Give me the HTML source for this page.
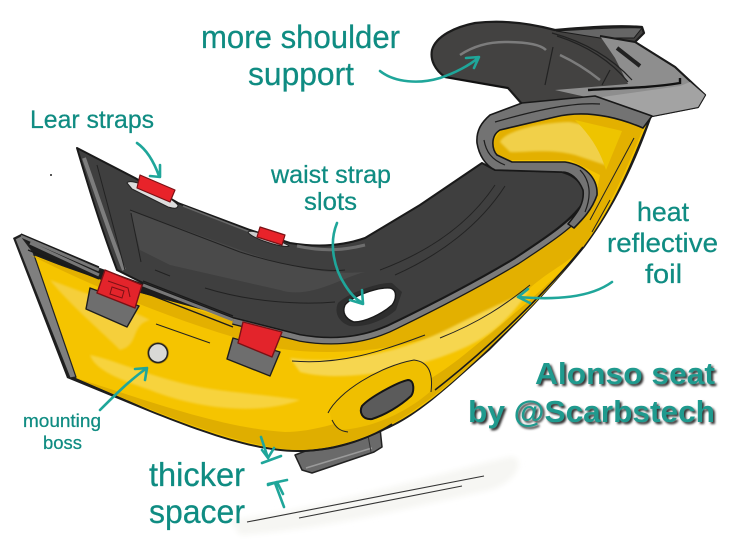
<!DOCTYPE html>
<html><head><meta charset="utf-8"><style>
html,body{margin:0;padding:0;background:#fff}
svg{display:block}
text{font-family:"Liberation Sans",sans-serif;fill:#0f8c82;stroke:#0f8c82;stroke-width:.25}
</style></head><body>
<svg width="730" height="539" viewBox="0 0 730 539" xmlns="http://www.w3.org/2000/svg">
<defs><filter id="b"><feGaussianBlur stdDeviation="3"/></filter><filter id="s"><feGaussianBlur stdDeviation="1"/></filter></defs>
<rect width="730" height="539" fill="#fff"/>
<path d="M230,520 C320,510 450,470 510,457 C525,455 522,480 490,490 C400,510 320,530 240,535Z" fill="#f6f6f3" filter="url(#b)"/>
<circle cx="51" cy="175" r="1" fill="#222"/>

<!-- spacer block -->
<path d="M295,455 L340,438 L367,428 L380,428 L382,447 L374,452 L312,473 L302,470Z" fill="#6a6a6a" stroke="#222" stroke-width="1.5" stroke-linejoin="round"/>
<path d="M306,468 L372,448" stroke="#9a9a9a" stroke-width="1.5" fill="none"/>
<path d="M367,430 L371,452" stroke="#333" fill="none"/>

<!-- shoulder -->
<path d="M432,50 C436,36 455,27 475,23 C500,20 525,22 555,30 C590,27 620,25 642,27 L644,33 L635,42 L675,67 L705,95 L698,107 L652,116 L595,100 L522,104 L508,88 L445,77 C435,70 430,60 432,50Z" fill="#434241" stroke="#1b1b1b" stroke-width="2.2" stroke-linejoin="round"/>
<path d="M556,31 C590,29 620,27 642,28 L634,38 L600,38 Z" fill="#666" stroke="#1b1b1b" stroke-width="1"/>
<path d="M600,36 L635,42 L675,67 L705,95 L698,107 L652,116 L595,99 L555,90 L628,84 L615,58Z" fill="#8e8e8e"/>
<path d="M600,36 L635,42 L675,67 L705,95 L698,107 L652,116 L595,99" fill="none" stroke="#1b1b1b" stroke-width="2" stroke-linejoin="round"/>
<path d="M595,98 L680,86 L690,82 L705,95 L698,107 L652,116Z" fill="#a3a3a3"/>
<path d="M588,90 C620,88 650,88 680,83 L680,78" stroke="#111" stroke-width="2.4" fill="none"/>
<path d="M460,55 C475,45 490,42 505,42 C525,42 540,44 546,50" stroke="#7c7c7c" stroke-width="2.5" fill="none"/>
<path d="M560,55 C575,62 590,72 600,80" stroke="#7c7c7c" stroke-width="2.5" fill="none"/>
<path d="M553,47 L545,85 M610,70 L602,85" stroke="#222" stroke-width="1.2" fill="none"/>
<path d="M557,36 C585,45 610,60 628,82 M552,33 C585,42 612,58 632,80" stroke="#222" stroke-width="1.2" fill="none"/>
<path d="M617,48 L640,66" stroke="#222" stroke-width="4" fill="none"/>
<path d="M445,77 L508,88" stroke="#111" stroke-width="1.5" fill="none"/>

<!-- yellow body -->
<path d="M13,238 L21,234 L100,268 L233,316 L340,335 L500,262 L590,200 L490,170 L478,140 L490,115 L520,106 L600,98 L652,116 C640,150 620,200 585,247 C550,290 520,320 490,350 C450,385 420,415 385,430 C355,445 325,452 297,452 C255,452 200,432 150,412 L67,378 Z" fill="#1d1d1d"/>
<path d="M28,253 L110,285 L233,318 L340,335 L500,262 L590,200 L495,165 L490,130 L570,108 L648,121 C632,160 615,205 583,247 C550,290 520,318 488,349 C450,385 420,412 385,428 C355,443 325,450 297,450 C255,450 200,430 150,410 L76,378 Z" fill="#f5c400"/>
<path d="M15,239 L21,236 L33,252 L76,377 L70,378Z" fill="#7f7f7f" stroke="#222" stroke-width="1.2"/>
<path d="M76,378 C150,410 240,448 297,450 C330,450 360,440 385,428 C415,412 450,385 488,349 C530,305 560,275 583,247 C560,275 520,310 470,350 C420,392 340,432 285,432 C220,428 140,398 76,378Z" fill="#dfae00"/>
<path d="M30,255 L130,290 L232,320 L290,335 L340,338 L420,310 L540,240 L596,195 L600,175 L570,160 L500,160 L490,145 L505,125 C550,112 600,112 646,122 C630,160 612,205 583,247 C570,262 550,270 530,288 C490,320 450,335 400,345 C350,355 300,353 270,347 C200,330 110,295 30,255Z" fill="#e3b000"/>
<path d="M50,280 C90,295 120,305 150,320 C130,325 140,345 120,350 C100,330 70,305 50,280Z" fill="#f5cf3a" filter="url(#s)"/>
<path d="M90,355 C115,360 145,375 190,385 C220,392 270,395 300,400 C260,415 200,410 150,390 C120,380 95,370 90,355Z" fill="#f7d33e" filter="url(#s)"/>
<path d="M290,358 C340,365 400,353 450,328 C490,308 520,295 530,290 C515,310 500,330 470,345 C430,365 350,385 300,372 Z" fill="#f6d650" filter="url(#s)"/>
<path d="M500,142 C505,130 545,122 570,122 L620,132 L605,165 L575,155 C550,148 520,153 510,152Z" fill="#f1d04a" filter="url(#s)"/>
<path d="M575,120 L622,131 L606,170 C600,150 590,135 575,120Z" fill="#eec400"/>
<path d="M292,361 C340,365 380,352 425,335 M440,338 C480,322 505,305 530,285" stroke="#222" stroke-width="1" fill="none"/>
<path d="M297,451 C340,452 375,435 392,424 M435,390 C480,355 540,300 583,247" stroke="#1a1a1a" stroke-width="1.6" fill="none"/>
<path d="M590,220 L634,138 M592,232 L610,200" stroke="#222" stroke-width="1" fill="none"/>
<path d="M156,324 L210,343" stroke="#222" stroke-width="1" fill="none"/>

<!-- slot boss -->
<path d="M330,412 C340,392 380,365 415,360 L430,367 L432,390 C410,410 375,428 340,430 C335,425 330,420 330,412Z" fill="#efbf00"/>
<path d="M328,413 C338,392 380,366 414,360 C430,362 433,375 431,392 M332,420 C336,428 340,431 348,432" stroke="#222" stroke-width="1" fill="none"/>
<path d="M362,406 C370,397 398,382 408,380 C415,380 414,392 411,396 C400,406 385,415 372,419 C362,420 359,412 362,406Z" fill="#5b5b5b" stroke="#151515" stroke-width="2"/>

<!-- back/seat dark panel -->
<path d="M77,148 L135,178 L178,203 L250,230 L290,243 C320,248 345,245 365,238 L420,205 L482,163 L495,170 L562,172 C580,177 587,190 583,203 C570,222 545,238 515,258 C470,285 430,305 395,322 C370,335 340,342 300,335 L233,318 L143,283 L117,270 C100,225 88,185 77,148Z" fill="#3f3f3f" stroke="#1a1a1a" stroke-width="2" stroke-linejoin="round"/>
<path d="M84,158 C97,195 112,240 124,270" stroke="#7d7d7d" stroke-width="4" fill="none"/>
<path d="M183,206 L250,232" stroke="#666" stroke-width="1.5" fill="none"/>
<path d="M297,246 C325,252 345,250 365,245" stroke="#6d6d6d" stroke-width="3" fill="none"/>
<path d="M130,210 L240,250 C290,268 330,275 365,272 C345,276 310,300 280,290 L170,265 L140,250Z" fill="#4a4a4a"/>
<path d="M130,210 L240,252 C290,268 330,272 345,270 M131,213 L141,262 M97,165 L125,270 M205,288 C250,302 300,305 335,302 M155,270 L170,276" stroke="#222" stroke-width="1" fill="none"/>
<path d="M505,186 C480,225 440,255 395,275 M495,185 C465,230 420,255 380,270" stroke="#232323" stroke-width="1" fill="none"/>

<!-- grey rim -->
<path d="M585,207 C572,225 547,241 517,261 C472,288 432,308 397,325 C372,338 340,345 300,338 L233,321" stroke="#181818" stroke-width="7.5" fill="none" stroke-linejoin="round"/>
<path d="M585,207 C572,225 547,241 517,261 C472,288 432,308 397,325 C372,338 340,345 300,338 L233,321" stroke="#7b7b7b" stroke-width="5" fill="none" stroke-linejoin="round"/>
<path d="M522,103 L595,96 L652,116 L643,128 C610,114 580,111 555,117 L500,130 C490,136 492,150 497,155 L512,162 L565,162 C585,165 598,178 597,195 C592,210 582,220 574,228 L568,224 C575,215 585,205 583,190 C578,178 570,172 562,172 L495,170 C485,165 479,155 477,143 C476,130 482,122 490,115 Z" fill="#737373" stroke="#181818" stroke-width="1.6" stroke-linejoin="round"/>
<path d="M495,122 C530,112 570,102 600,104 M484,140 C486,152 492,160 505,165 M580,170 C590,180 592,195 585,212" stroke="#1e1e1e" stroke-width="1.2" fill="none"/>
<path d="M21,236 L99,270 M30,243 L99,275 M143,285 L233,320" stroke="#777" stroke-width="3" fill="none"/>
<path d="M21,234 L99,267 M28,250 L99,279 M143,281 L233,316 M143,292 L233,327" stroke="#1a1a1a" stroke-width="1.4" fill="none"/>

<!-- waist slot -->
<path d="M338,303 C350,292 380,282 392,283 L402,292 L396,310 C385,320 365,328 350,326 C338,322 334,312 338,303Z" fill="#2e2e2e"/>
<path d="M345,305 C352,296 378,287 390,288 C398,290 396,300 392,305 C382,314 365,322 354,322 C345,319 342,312 345,305Z" fill="#fff" stroke="#1a1a1a" stroke-width="1.4"/>

<!-- straps upper -->
<path d="M127,183 C130,177 165,192 178,205 C178,210 172,208 168,207 L132,189Z" fill="#ddd" stroke="#222"/>
<path d="M140,175 L175,190 L170,202 L137,188Z" fill="#e8232a" stroke="#7b1115" stroke-width="1.2" stroke-linejoin="round"/>
<path d="M248,232 C253,228 285,243 289,246 C285,249 250,238 248,232Z" fill="#ccc" stroke="#222"/>
<path d="M260,227 L285,235 L282,245 L257,237Z" fill="#e8232a" stroke="#7b1115" stroke-width="1.2" stroke-linejoin="round"/>

<!-- straps lower -->
<path d="M90,288 L86,309 L127,327 L139,306Z" fill="#6e6e6e" stroke="#1e1e1e" stroke-width="1.4" stroke-linejoin="round"/>
<path d="M105,270 L142,285 L135,308 L97,293Z" fill="#e3242b" stroke="#7b1115" stroke-width="1.4" stroke-linejoin="round"/>
<path d="M108,281 L128,288 L130,297 M112,287 L124,291 L122,298 L110,294Z" stroke="#7b1115" stroke-width="1" fill="none"/>
<path d="M233,338 L227,359 L270,376 L280,352Z" fill="#6e6e6e" stroke="#1e1e1e" stroke-width="1.4" stroke-linejoin="round"/>
<path d="M243,322 L282,332 L272,357 L238,343Z" fill="#e3242b" stroke="#7b1115" stroke-width="1.4" stroke-linejoin="round"/>

<!-- mounting boss -->
<circle cx="158" cy="353" r="11" fill="#b98f00"/>
<circle cx="158" cy="353" r="9.5" fill="#d9d9d6" stroke="#222" stroke-width="1.5"/>

<!-- arrows -->
<g fill="none" stroke="#1fa69a" stroke-width="2.6" stroke-linecap="round" stroke-linejoin="round">
<path d="M380,71 C395,83 420,84 440,78 C455,73 470,65 478,58 M466,58 L479,57 L474,68"/>
<path d="M137,143 C147,150 154,162 159,176 M150,176 L160,177 L160,165"/>
<path d="M337,223 C328,245 335,270 345,285 C350,293 356,300 363,303 M362,290 L363,304 L350,300"/>
<path d="M612,282 C590,298 555,300 518,297 M528,289 L518,297 L530,303"/>
<path d="M100,410 C115,395 130,380 147,368 M135,369 L147,368 L145,380"/>
<path d="M261,437 L268,458 M262,463 L281,456 M262,450 L268,458 L274,448"/>
<path d="M284,507 L275,483 M268,484 L287,480 M268,485 L277,482 L283,494"/>
</g>
<path d="M247,522 L484,476 M299,518 L462,486" stroke="#333" stroke-width="1.1" fill="none"/>

<!-- labels -->
<text x="201" y="48" font-size="32" textLength="199" lengthAdjust="spacingAndGlyphs">more shoulder</text>
<text x="248" y="85" font-size="32" textLength="106" lengthAdjust="spacingAndGlyphs">support</text>
<text x="30" y="128" font-size="25" textLength="124" lengthAdjust="spacingAndGlyphs">Lear straps</text>
<text x="271" y="183" font-size="25" textLength="120" lengthAdjust="spacingAndGlyphs">waist strap</text>
<text x="304" y="210" font-size="25" textLength="53" lengthAdjust="spacingAndGlyphs">slots</text>
<text x="637" y="221" font-size="27" textLength="52" lengthAdjust="spacingAndGlyphs">heat</text>
<text x="607" y="252" font-size="27" textLength="111" lengthAdjust="spacingAndGlyphs">reflective</text>
<text x="645" y="283" font-size="27" textLength="37" lengthAdjust="spacingAndGlyphs">foil</text>
<text x="23" y="427" font-size="18" textLength="78" lengthAdjust="spacingAndGlyphs">mounting</text>
<text x="43" y="449" font-size="18" textLength="39" lengthAdjust="spacingAndGlyphs">boss</text>
<text x="149" y="486" font-size="33" textLength="96" lengthAdjust="spacingAndGlyphs">thicker</text>
<text x="149" y="523" font-size="33" textLength="96" lengthAdjust="spacingAndGlyphs">spacer</text>
<g font-weight="bold" font-size="31">
<text x="537" y="386" textLength="180" lengthAdjust="spacingAndGlyphs" style="fill:#333;stroke:none" filter="url(#s)">Alonso seat</text>
<text x="470" y="424" textLength="247" lengthAdjust="spacingAndGlyphs" style="fill:#333;stroke:none" filter="url(#s)">by @Scarbstech</text>
<text x="535" y="384" textLength="180" lengthAdjust="spacingAndGlyphs" style="fill:#1f9a8e;stroke:none">Alonso seat</text>
<text x="468" y="422" textLength="247" lengthAdjust="spacingAndGlyphs" style="fill:#1f9a8e;stroke:none">by @Scarbstech</text>
</g>
</svg>
</body></html>
